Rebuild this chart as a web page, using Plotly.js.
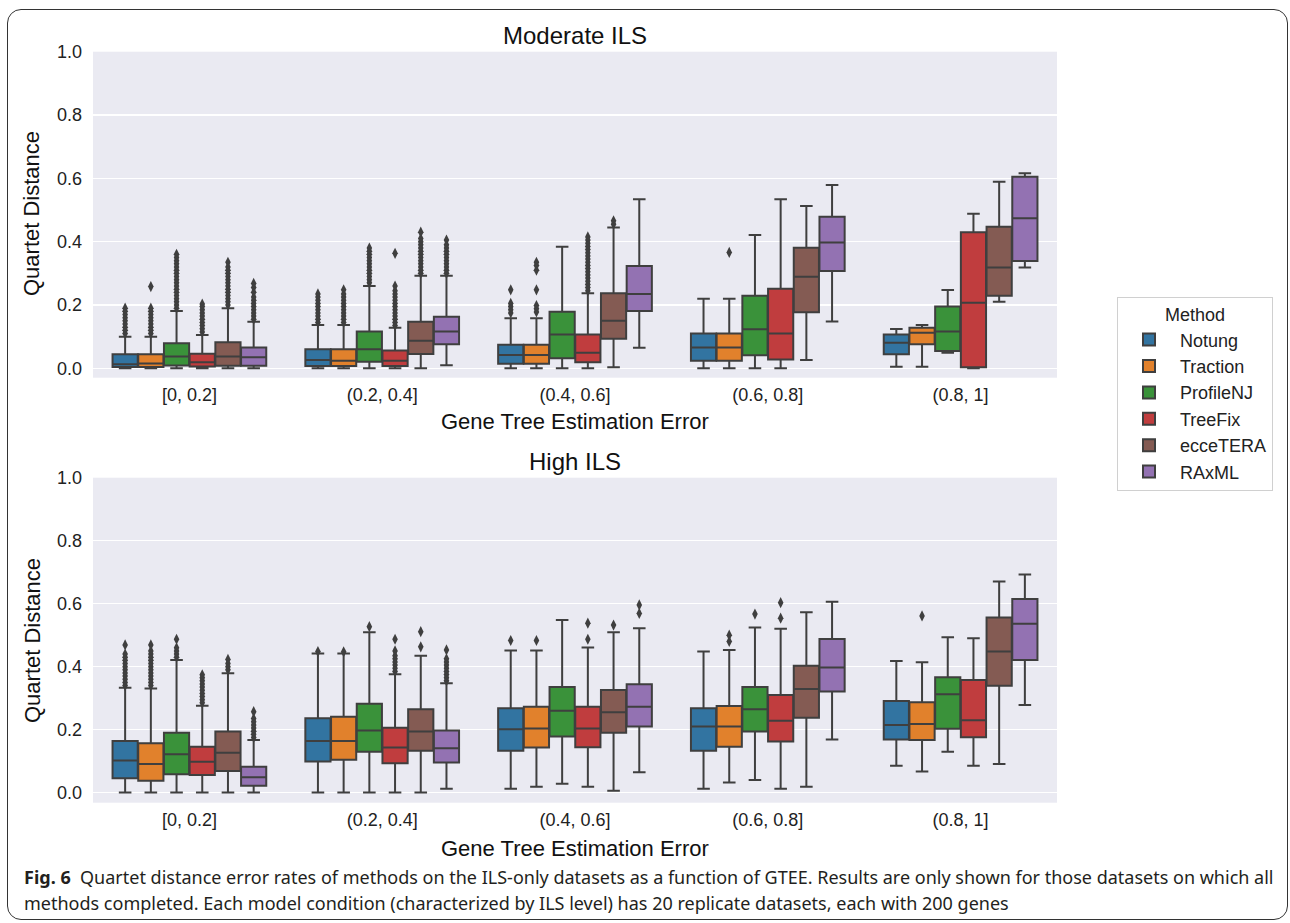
<!DOCTYPE html>
<html>
<head>
<meta charset="utf-8">
<script src="https://cdn.plot.ly/plotly-3.0.1.min.js"></script>
<style>
html,body{margin:0;padding:0;background:#fff;}
#wrap{position:relative;width:1290px;height:923px;overflow:hidden;}
#chart{position:absolute;left:0;top:0;width:1290px;height:923px;}
#frame{position:absolute;left:7px;top:9px;width:1281px;height:911px;border:1.3px solid #333;border-radius:14px;pointer-events:none;box-sizing:border-box;}
</style>
</head>
<body>
<div id="wrap"><div id="chart"></div><div id="frame"></div></div>
<script>
const categories = ['[0, 0.2]', '(0.2, 0.4]', '(0.4, 0.6]', '(0.6, 0.8]', '(0.8, 1]'];
const methods = ['Notung', 'Traction', 'ProfileNJ', 'TreeFix', 'ecceTERA', 'RAxML'];
const colors = ['#3274a1', '#e1812c', '#3a923a', '#c03d3e', '#845b53', '#9372b2'];
const yTicks = [0, 0.2, 0.4, 0.6, 0.8, 1.0];

// Moderate ILS: per method, per GTEE bin
const modQ1  = [[0.004,0.007,0.014,0.024,0.044],[0.004,0.007,0.014,0.024,0.076],[0.009,0.021,0.032,0.041,0.055],[0.006,0.007,0.019,0.028,0.003],[0.008,0.045,0.093,0.177,0.229],[0.008,0.076,0.181,0.307,0.339]];
const modMed = [[0.013,0.026,0.042,0.066,0.081],[0.015,0.024,0.042,0.066,0.112],[0.037,0.060,0.107,0.123,0.116],[0.019,0.024,0.049,0.110,0.207],[0.037,0.087,0.150,0.289,0.318],[0.035,0.116,0.235,0.397,0.474]];
const modQ3  = [[0.044,0.060,0.074,0.110,0.107],[0.044,0.060,0.074,0.110,0.128],[0.079,0.116,0.179,0.229,0.195],[0.046,0.056,0.107,0.251,0.430],[0.082,0.147,0.237,0.381,0.447],[0.066,0.163,0.323,0.479,0.605]];
const modLo  = [[0,0,0,0,0.005],[0,0,0,0,0.005],[0,0,0,0,0.049],[0,0,0,0,0],[0,0,0.003,0.026,0.210],[0,0.010,0.065,0.148,0.318]];
const modHi  = [[0.100,0.137,0.158,0.220,0.124],[0.100,0.137,0.158,0.220,0.137],[0.181,0.260,0.384,0.421,0.247],[0.105,0.128,0.237,0.534,0.488],[0.190,0.292,0.445,0.513,0.589],[0.147,0.292,0.534,0.579,0.616]];
const modOut = [
  [[0.11,0.12,0.13,0.14,0.15,0.16,0.17,0.18,0.19],[0.145,0.155,0.165,0.175,0.185,0.195,0.205,0.215,0.225,0.235],[0.175,0.185,0.195,0.205,0.248],[],[]],
  [[0.11,0.12,0.13,0.14,0.15,0.16,0.17,0.18,0.19,0.258],[0.145,0.155,0.165,0.175,0.185,0.195,0.205,0.215,0.225,0.235,0.248],[0.178,0.188,0.198,0.248,0.31,0.325,0.335],[0.366],[]],
  [[0.19,0.20,0.21,0.22,0.23,0.24,0.25,0.26,0.27,0.28,0.29,0.30,0.31,0.32,0.33,0.34,0.35,0.36],[0.27,0.28,0.29,0.30,0.31,0.32,0.33,0.34,0.35,0.36,0.37,0.38],[],[],[]],
  [[0.115,0.125,0.135,0.145,0.155,0.165,0.175,0.185,0.195,0.203],[0.135,0.145,0.155,0.165,0.175,0.185,0.195,0.205,0.215,0.225,0.235,0.245,0.26,0.363],[0.245,0.255,0.265,0.275,0.285,0.295,0.305,0.315,0.325,0.335,0.345,0.355,0.365,0.375,0.385,0.395,0.405,0.415],[],[]],
  [[0.20,0.21,0.22,0.23,0.24,0.25,0.26,0.27,0.28,0.29,0.30,0.31,0.32,0.335],[0.30,0.31,0.32,0.33,0.34,0.35,0.36,0.37,0.38,0.39,0.40,0.41,0.43],[0.455,0.466],[],[]],
  [[0.155,0.165,0.175,0.185,0.195,0.205,0.215,0.225,0.24,0.255,0.268],[0.30,0.31,0.32,0.33,0.34,0.35,0.36,0.37,0.38,0.39,0.405],[],[],[]]
];

// High ILS: per method, per GTEE bin
const highQ1  = [[0.046,0.099,0.133,0.133,0.169],[0.038,0.104,0.143,0.146,0.167],[0.058,0.130,0.178,0.194,0.203],[0.056,0.093,0.144,0.162,0.176],[0.069,0.133,0.190,0.238,0.339],[0.022,0.096,0.210,0.321,0.421]];
const highMed = [[0.102,0.164,0.201,0.210,0.215],[0.091,0.164,0.204,0.210,0.218],[0.122,0.197,0.260,0.265,0.312],[0.098,0.143,0.204,0.228,0.230],[0.127,0.194,0.255,0.329,0.448],[0.049,0.141,0.273,0.397,0.536]];
const highQ3  = [[0.164,0.236,0.268,0.268,0.291],[0.157,0.241,0.273,0.275,0.287],[0.190,0.282,0.335,0.335,0.366],[0.146,0.206,0.273,0.310,0.358],[0.194,0.265,0.326,0.403,0.556],[0.082,0.197,0.344,0.488,0.615]];
const highLo  = [[0,0,0.012,0.012,0.085],[0,0,0.019,0.032,0.067],[0,0,0.028,0.040,0.130],[0,0,0.019,0.012,0.085],[0,0,0.006,0.019,0.091],[0,0.012,0.065,0.169,0.278]];
const highHi  = [[0.333,0.442,0.451,0.448,0.418],[0.331,0.442,0.451,0.453,0.414],[0.421,0.509,0.548,0.524,0.493],[0.276,0.376,0.461,0.520,0.490],[0.379,0.435,0.509,0.573,0.670],[0.167,0.347,0.522,0.606,0.693]];
const highOut = [
  [[0.34,0.35,0.36,0.37,0.38,0.39,0.40,0.41,0.42,0.43,0.44,0.469],[0.448],[0.483],[],[]],
  [[0.34,0.35,0.36,0.37,0.38,0.39,0.40,0.41,0.42,0.43,0.44,0.45,0.469],[0.447],[0.483],[0.48,0.50],[0.561]],
  [[0.43,0.44,0.45,0.46,0.487],[0.527],[],[0.567],[]],
  [[0.285,0.295,0.305,0.315,0.325,0.335,0.345,0.355,0.365,0.374],[0.385,0.395,0.405,0.415,0.425,0.435,0.45,0.487],[0.487,0.538],[0.554,0.603],[]],
  [[0.39,0.40,0.41,0.423],[0.463,0.511],[0.532],[],[]],
  [[0.175,0.185,0.195,0.205,0.215,0.225,0.235,0.257],[0.355,0.365,0.375,0.385,0.395,0.405,0.415,0.425,0.453],[0.569,0.596],[],[]]
];

const slot = 0.8 / methods.length;
function pos(g, m) { return g + (m - (methods.length - 1) / 2) * slot; }

const traces = [];
function addPanel(q1, med, q3, lo, hi, outs, xa, ya, showLeg) {
  methods.forEach((name, m) => {
    traces.push({
      type: 'box', name: name, legendgroup: name, showlegend: showLeg,
      x: categories.map((c, g) => pos(g, m)),
      q1: q1[m], median: med[m], q3: q3[m], lowerfence: lo[m], upperfence: hi[m],
      width: slot * 0.98, whiskerwidth: 0.5, boxpoints: false,
      fillcolor: colors[m], line: {color: '#3f3f3f', width: 2},
      xaxis: xa, yaxis: ya, hoverinfo: 'y'
    });
  });
  methods.forEach((name, m) => {
    const xs = [], ys = [];
    outs[m].forEach((vals, g) => vals.forEach(v => { xs.push(pos(g, m)); ys.push(v); }));
    traces.push({
      type: 'scatter', mode: 'markers', name: name + ' outliers', legendgroup: name, showlegend: false,
      x: xs, y: ys, xaxis: xa, yaxis: ya,
      marker: {symbol: 'diamond-tall', size: 8, color: '#3f3f3f'}, hoverinfo: 'y'
    });
  });
}
addPanel(modQ1, modMed, modQ3, modLo, modHi, modOut, 'x', 'y', true);
addPanel(highQ1, highMed, highQ3, highLo, highHi, highOut, 'x2', 'y2', false);

const W = 1290, H = 923;
const px = v => v / W, py = v => 1 - v / H;
const font = 'Liberation Sans, Arial, sans-serif';
const xAxisBase = {
  range: [-0.5, 4.5], tickvals: categories.map((c, i) => i), ticktext: categories,
  showgrid: false, zeroline: false, showline: false, ticks: '', ticklabelstandoff: 4,
  tickfont: {family: font, size: 18, color: '#222'}, fixedrange: true
};
const yAxisBase = {
  tickvals: yTicks, tickformat: '.1f', showgrid: true, gridcolor: '#ffffff', gridwidth: 1.3,
  zeroline: false, showline: false, ticks: '', ticklabelstandoff: 10,
  tickfont: {family: font, size: 18, color: '#222'}, fixedrange: true
};
const layout = {
  width: W, height: H, margin: {l: 0, r: 0, t: 0, b: 0},
  paper_bgcolor: '#ffffff', plot_bgcolor: '#eaeaf2',
  boxmode: 'overlay', showlegend: true,
  xaxis: Object.assign({}, xAxisBase, {domain: [px(93), px(1057)], anchor: 'y'}),
  yaxis: Object.assign({}, yAxisBase, {domain: [py(377.7), py(51.7)], range: [-0.0297, 1.0], anchor: 'x'}),
  xaxis2: Object.assign({}, xAxisBase, {domain: [px(93), px(1057)], anchor: 'y2'}),
  yaxis2: Object.assign({}, yAxisBase, {domain: [py(802.7), py(477.7)], range: [-0.032, 1.0], anchor: 'x2'}),
  legend: {
    x: px(1117), y: py(297), xanchor: 'left', yanchor: 'top',
    bgcolor: '#ffffff', bordercolor: '#d0d0d0', borderwidth: 1,
    font: {family: font, size: 18, color: '#222'},
    title: {text: 'Method', side: 'top center', font: {family: font, size: 18, color: '#222'}},
    itemwidth: 52, tracegroupgap: 0
  },
  annotations: [
    {text: 'Moderate ILS', x: px(575), y: py(35), xref: 'paper', yref: 'paper', showarrow: false, yanchor: 'middle', font: {family: font, size: 24, color: '#111'}},
    {text: 'High ILS', x: px(575), y: py(461), xref: 'paper', yref: 'paper', showarrow: false, yanchor: 'middle', font: {family: font, size: 24, color: '#111'}},
    {text: 'Gene Tree Estimation Error', x: px(575), y: py(421), xref: 'paper', yref: 'paper', showarrow: false, yanchor: 'middle', font: {family: font, size: 22, color: '#111'}},
    {text: 'Gene Tree Estimation Error', x: px(575), y: py(848), xref: 'paper', yref: 'paper', showarrow: false, yanchor: 'middle', font: {family: font, size: 22, color: '#111'}},
    {text: 'Quartet Distance', x: px(32), y: py(214), xref: 'paper', yref: 'paper', showarrow: false, textangle: -90, xanchor: 'center', yanchor: 'middle', font: {family: font, size: 22, color: '#111'}},
    {text: 'Quartet Distance', x: px(32), y: py(641), xref: 'paper', yref: 'paper', showarrow: false, textangle: -90, xanchor: 'center', yanchor: 'middle', font: {family: font, size: 22, color: '#111'}},
    {text: '<b>Fig. 6</b>  Quartet distance error rates of methods on the ILS-only datasets as a function of GTEE. Results are only shown for those datasets on which all', x: px(22), y: py(877), xref: 'paper', yref: 'paper', showarrow: false, xanchor: 'left', yanchor: 'middle', font: {family: 'Noto Sans, sans-serif', size: 18, color: '#231f20'}},
    {text: 'methods completed. Each model condition (characterized by ILS level) has 20 replicate datasets, each with 200 genes', x: px(22), y: py(903), xref: 'paper', yref: 'paper', showarrow: false, xanchor: 'left', yanchor: 'middle', font: {family: 'Noto Sans, sans-serif', size: 18, color: '#231f20'}}
  ]
};
Plotly.newPlot('chart', traces, layout, {displayModeBar: false, staticPlot: true});
</script>
</body>
</html>
